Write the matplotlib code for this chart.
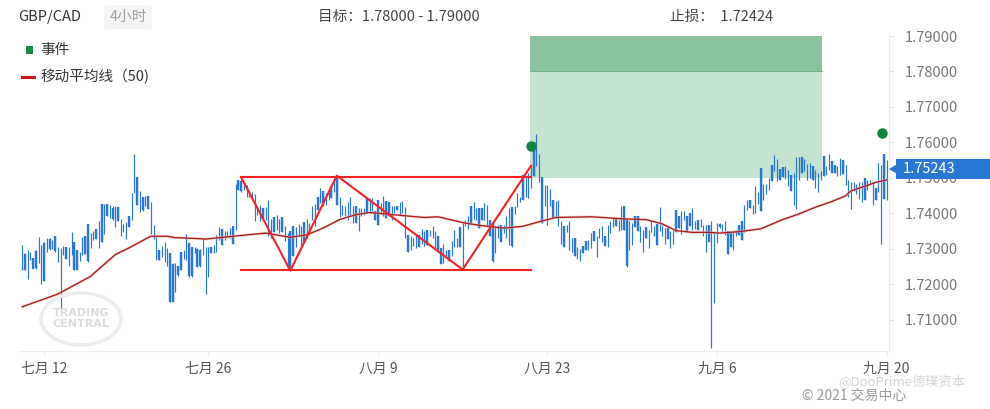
import numpy as np
import matplotlib
matplotlib.use("Agg")
import matplotlib.pyplot as plt
from matplotlib.patches import Rectangle, Polygon, Ellipse, FancyBboxPatch
from matplotlib.lines import Line2D

plt.rcParams['font.family'] = ['Noto Sans CJK SC', 'DejaVu Sans']

# GBP/CAD 4h bars (bar index 0 = first bar on the left)
highs = [
    1.7311, 1.7288, 1.7295, 1.7292, 1.7274, 1.7295, 1.7332, 1.7311, 1.7318, 1.7329,
    1.7330, 1.7325, 1.7337, 1.7306, 1.7301, 1.7308, 1.7304, 1.7306, 1.7348, 1.7318,
    1.7297, 1.7291, 1.7333, 1.7337, 1.7370, 1.7344, 1.7351, 1.7355, 1.7378, 1.7427,
    1.7425, 1.7425, 1.7422, 1.7419, 1.7421, 1.7417, 1.7383, 1.7370, 1.7374, 1.7391,
    1.7458, 1.7566, 1.7502, 1.7464, 1.7447, 1.7449, 1.7449, 1.7432, 1.7367, 1.7333,
    1.7295, 1.7307, 1.7319, 1.7301, 1.7288, 1.7260, 1.7260, 1.7250, 1.7290, 1.7295,
    1.7341, 1.7316, 1.7306, 1.7306,
    1.7302, 1.7299, 1.7330, 1.7306, 1.7306, 1.7306, 1.7311, 1.7339, 1.7361, 1.7355,
    1.7349, 1.7349, 1.7358, 1.7365, 1.7483, 1.7494, 1.7496, 1.7487, 1.7480, 1.7466,
    1.7461, 1.7455, 1.7421, 1.7424, 1.7414, 1.7417, 1.7436, 1.7384, 1.7388, 1.7395,
    1.7385, 1.7388, 1.7365, 1.7344, 1.7349, 1.7363, 1.7361, 1.7370, 1.7365, 1.7374,
    1.7383, 1.7372, 1.7421, 1.7427, 1.7447, 1.7471, 1.7464, 1.7458, 1.7461, 1.7476,
    1.7494, 1.7505, 1.7447, 1.7424, 1.7421, 1.7431, 1.7445, 1.7421, 1.7421, 1.7414,
    1.7414, 1.7414, 1.7440, 1.7443,
    1.7443, 1.7405, 1.7438, 1.7429, 1.7449, 1.7435, 1.7432, 1.7421, 1.7421, 1.7421,
    1.7433, 1.7435, 1.7417, 1.7339, 1.7335, 1.7330, 1.7339, 1.7339, 1.7355, 1.7349,
    1.7353, 1.7353, 1.7365, 1.7349, 1.7337, 1.7302, 1.7314, 1.7297, 1.7295, 1.7321,
    1.7353, 1.7330, 1.7361, 1.7372, 1.7382, 1.7393, 1.7421, 1.7431, 1.7414, 1.7414,
    1.7414, 1.7429, 1.7424, 1.7382, 1.7372, 1.7365, 1.7368, 1.7368, 1.7368, 1.7393,
    1.7414, 1.7417, 1.7421, 1.7458, 1.7447, 1.7508, 1.7505, 1.7513, 1.7534, 1.7602,
    1.7624, 1.7568, 1.7502, 1.7480,
    1.7480, 1.7468, 1.7438, 1.7435, 1.7438, 1.7379, 1.7365, 1.7368, 1.7379, 1.7330,
    1.7330, 1.7304, 1.7299, 1.7308, 1.7322, 1.7325, 1.7344, 1.7351, 1.7337, 1.7358,
    1.7363, 1.7335, 1.7368, 1.7379, 1.7386, 1.7383, 1.7382, 1.7421, 1.7421, 1.7380,
    1.7377, 1.7372, 1.7391, 1.7391, 1.7365, 1.7352, 1.7361, 1.7353, 1.7377, 1.7365,
    1.7370, 1.7417, 1.7368, 1.7358, 1.7358, 1.7349, 1.7353, 1.7408, 1.7391, 1.7405,
    1.7405, 1.7393, 1.7402, 1.7414, 1.7377, 1.7380, 1.7383, 1.7368, 1.7368, 1.7368,
    1.7377, 1.7346, 1.7372, 1.7372,
    1.7370, 1.7379, 1.7351, 1.7344, 1.7349, 1.7353, 1.7368, 1.7379, 1.7424, 1.7438,
    1.7438, 1.7424, 1.7476, 1.7461, 1.7529, 1.7483, 1.7483, 1.7499, 1.7537, 1.7565,
    1.7553, 1.7525, 1.7530, 1.7532, 1.7523, 1.7509, 1.7513, 1.7558, 1.7560, 1.7558,
    1.7553, 1.7539, 1.7543, 1.7532, 1.7523, 1.7513, 1.7518, 1.7562, 1.7534, 1.7568,
    1.7546, 1.7537, 1.7532, 1.7555, 1.7549, 1.7537, 1.7494, 1.7487, 1.7487, 1.7483,
    1.7487, 1.7489, 1.7499, 1.7494, 1.7494, 1.7489, 1.7471, 1.7543, 1.7537, 1.7568,
    1.7551,
]
lows = [
    1.7241, 1.7239, 1.7215, 1.7269, 1.7243, 1.7243, 1.7260, 1.7200, 1.7208, 1.7290,
    1.7297, 1.7300, 1.7292, 1.7261, 1.7130, 1.7283, 1.7271, 1.7252, 1.7283, 1.7239,
    1.7239, 1.7264, 1.7283, 1.7285, 1.7261, 1.7302, 1.7325, 1.7327, 1.7302, 1.7318,
    1.7340, 1.7393, 1.7386, 1.7382, 1.7360, 1.7377, 1.7335, 1.7346, 1.7327, 1.7361,
    1.7382, 1.7457, 1.7424, 1.7404, 1.7405, 1.7419, 1.7412, 1.7340, 1.7327, 1.7267,
    1.7267, 1.7277, 1.7261, 1.7252, 1.7149, 1.7149, 1.7177, 1.7224, 1.7241, 1.7271,
    1.7267, 1.7220, 1.7219, 1.7288,
    1.7247, 1.7247, 1.7283, 1.7172, 1.7219, 1.7288, 1.7288, 1.7292, 1.7325, 1.7311,
    1.7325, 1.7329, 1.7330, 1.7314, 1.7352, 1.7466, 1.7459, 1.7466, 1.7445, 1.7447,
    1.7438, 1.7377, 1.7396, 1.7377, 1.7383, 1.7382, 1.7336, 1.7330, 1.7348, 1.7353,
    1.7344, 1.7348, 1.7321, 1.7239, 1.7239, 1.7278, 1.7306, 1.7339, 1.7305, 1.7316,
    1.7330, 1.7339, 1.7382, 1.7365, 1.7410, 1.7429, 1.7421, 1.7424, 1.7438, 1.7443,
    1.7461, 1.7424, 1.7389, 1.7396, 1.7391, 1.7382, 1.7396, 1.7372, 1.7372, 1.7349,
    1.7391, 1.7396, 1.7400, 1.7402,
    1.7405, 1.7382, 1.7368, 1.7400, 1.7391, 1.7386, 1.7391, 1.7382, 1.7402, 1.7408,
    1.7396, 1.7402, 1.7330, 1.7290, 1.7295, 1.7308, 1.7302, 1.7305, 1.7314, 1.7308,
    1.7311, 1.7335, 1.7330, 1.7302, 1.7290, 1.7258, 1.7260, 1.7278, 1.7264, 1.7278,
    1.7306, 1.7305, 1.7306, 1.7241, 1.7363, 1.7355, 1.7372, 1.7383, 1.7382, 1.7358,
    1.7382, 1.7382, 1.7363, 1.7335, 1.7261, 1.7288, 1.7330, 1.7318, 1.7344, 1.7330,
    1.7311, 1.7306, 1.7398, 1.7417, 1.7433, 1.7438, 1.7445, 1.7443, 1.7471, 1.7506,
    1.7534, 1.7487, 1.7372, 1.7419,
    1.7368, 1.7421, 1.7386, 1.7386, 1.7365, 1.7314, 1.7304, 1.7346, 1.7297, 1.7290,
    1.7278, 1.7271, 1.7264, 1.7288, 1.7297, 1.7295, 1.7302, 1.7321, 1.7277, 1.7330,
    1.7318, 1.7308, 1.7306, 1.7344, 1.7361, 1.7363, 1.7349, 1.7353, 1.7352, 1.7247,
    1.7295, 1.7311, 1.7361, 1.7349, 1.7318, 1.7290, 1.7330, 1.7302, 1.7346, 1.7335,
    1.7311, 1.7349, 1.7337, 1.7314, 1.7327, 1.7302, 1.7314, 1.7346, 1.7358, 1.7342,
    1.7380, 1.7346, 1.7365, 1.7353, 1.7355, 1.7352, 1.7361, 1.7337, 1.7290, 1.7318,
    1.7020, 1.7147, 1.7316, 1.7358,
    1.7346, 1.7339, 1.7286, 1.7306, 1.7295, 1.7337, 1.7339, 1.7325, 1.7346, 1.7408,
    1.7414, 1.7398, 1.7402, 1.7427, 1.7405, 1.7438, 1.7455, 1.7466, 1.7490, 1.7518,
    1.7490, 1.7493, 1.7502, 1.7496, 1.7476, 1.7464, 1.7424, 1.7412, 1.7494, 1.7513,
    1.7518, 1.7494, 1.7499, 1.7494, 1.7471, 1.7459, 1.7494, 1.7504, 1.7509, 1.7523,
    1.7513, 1.7513, 1.7504, 1.7509, 1.7511, 1.7480, 1.7447, 1.7412, 1.7464, 1.7455,
    1.7440, 1.7433, 1.7436, 1.7466, 1.7480, 1.7424, 1.7436, 1.7459, 1.7314, 1.7440,
    1.7436,
]
opens = [
    1.7250, 1.7286, 1.7269, 1.7272, 1.7274, 1.7293, 1.7265, 1.7290, 1.7315, 1.7295,
    1.7328, 1.7305, 1.7335, 1.7265, 1.7290, 1.7286, 1.7304, 1.7258, 1.7290, 1.7318,
    1.7297, 1.7268, 1.7288, 1.7337, 1.7370, 1.7308, 1.7328, 1.7355, 1.7310, 1.7425,
    1.7345, 1.7425, 1.7390, 1.7415, 1.7365, 1.7417, 1.7340, 1.7348, 1.7330, 1.7391,
    1.7385, 1.7460, 1.7502, 1.7408, 1.7445, 1.7422, 1.7449, 1.7345, 1.7330, 1.7272,
    1.7295, 1.7280, 1.7265, 1.7256, 1.7288, 1.7258, 1.7180, 1.7250, 1.7290, 1.7274,
    1.7270, 1.7316, 1.7306, 1.7290,
    1.7300, 1.7297, 1.7288, 1.7290, 1.7295, 1.7306, 1.7290, 1.7296, 1.7330, 1.7355,
    1.7328, 1.7332, 1.7333, 1.7365, 1.7356, 1.7494, 1.7492, 1.7468, 1.7448, 1.7450,
    1.7440, 1.7382, 1.7398, 1.7380, 1.7414, 1.7385, 1.7340, 1.7333, 1.7388, 1.7357,
    1.7347, 1.7388, 1.7324, 1.7243, 1.7349, 1.7363, 1.7310, 1.7342, 1.7308, 1.7374,
    1.7333, 1.7342, 1.7385, 1.7368, 1.7447, 1.7432, 1.7464, 1.7427, 1.7440, 1.7476,
    1.7464, 1.7505, 1.7392, 1.7399, 1.7394, 1.7385, 1.7399, 1.7375, 1.7421, 1.7352,
    1.7394, 1.7398, 1.7440, 1.7405,
    1.7408, 1.7405, 1.7438, 1.7403, 1.7394, 1.7435, 1.7432, 1.7385, 1.7405, 1.7421,
    1.7399, 1.7405, 1.7333, 1.7339, 1.7298, 1.7311, 1.7305, 1.7339, 1.7317, 1.7311,
    1.7353, 1.7338, 1.7333, 1.7305, 1.7337, 1.7302, 1.7263, 1.7281, 1.7295, 1.7281,
    1.7309, 1.7308, 1.7361, 1.7360, 1.7366, 1.7358, 1.7421, 1.7386, 1.7385, 1.7414,
    1.7414, 1.7385, 1.7366, 1.7382, 1.7372, 1.7292, 1.7333, 1.7368, 1.7347, 1.7333,
    1.7314, 1.7417, 1.7400, 1.7420, 1.7435, 1.7508, 1.7448, 1.7446, 1.7474, 1.7602,
    1.7538, 1.7490, 1.7502, 1.7422,
    1.7372, 1.7424, 1.7438, 1.7389, 1.7368, 1.7317, 1.7365, 1.7349, 1.7300, 1.7293,
    1.7330, 1.7274, 1.7267, 1.7308, 1.7322, 1.7298, 1.7305, 1.7351, 1.7280, 1.7333,
    1.7321, 1.7335, 1.7309, 1.7347, 1.7364, 1.7383, 1.7352, 1.7356, 1.7421, 1.7380,
    1.7298, 1.7314, 1.7391, 1.7391, 1.7321, 1.7293, 1.7361, 1.7305, 1.7349, 1.7338,
    1.7370, 1.7352, 1.7340, 1.7317, 1.7358, 1.7305, 1.7317, 1.7408, 1.7391, 1.7345,
    1.7383, 1.7393, 1.7402, 1.7356, 1.7358, 1.7380, 1.7364, 1.7340, 1.7293, 1.7368,
    1.7370, 1.7340, 1.7319, 1.7369,
    1.7349, 1.7342, 1.7351, 1.7344, 1.7298, 1.7340, 1.7368, 1.7379, 1.7349, 1.7411,
    1.7438, 1.7401, 1.7405, 1.7430, 1.7529, 1.7441, 1.7458, 1.7469, 1.7537, 1.7521,
    1.7493, 1.7525, 1.7530, 1.7499, 1.7479, 1.7509, 1.7427, 1.7415, 1.7497, 1.7558,
    1.7521, 1.7497, 1.7502, 1.7532, 1.7474, 1.7462, 1.7497, 1.7562, 1.7512, 1.7526,
    1.7546, 1.7537, 1.7507, 1.7512, 1.7549, 1.7483, 1.7450, 1.7415, 1.7467, 1.7458,
    1.7443, 1.7436, 1.7499, 1.7469, 1.7483, 1.7427, 1.7471, 1.7462, 1.7480, 1.7568,
    1.7440,
]
closes = [
    1.7302, 1.7239, 1.7293, 1.7288, 1.7243, 1.7245, 1.7325, 1.7308, 1.7210, 1.7325,
    1.7300, 1.7318, 1.7294, 1.7300, 1.7298, 1.7305, 1.7271, 1.7300, 1.7340, 1.7239,
    1.7240, 1.7288, 1.7330, 1.7285, 1.7265, 1.7340, 1.7348, 1.7327, 1.7372, 1.7320,
    1.7420, 1.7393, 1.7418, 1.7385, 1.7418, 1.7377, 1.7380, 1.7368, 1.7370, 1.7361,
    1.7455, 1.7560, 1.7424, 1.7460, 1.7408, 1.7447, 1.7412, 1.7428, 1.7364, 1.7330,
    1.7267, 1.7304, 1.7315, 1.7298, 1.7149, 1.7150, 1.7255, 1.7226, 1.7241, 1.7292,
    1.7338, 1.7222, 1.7222, 1.7305,
    1.7249, 1.7250, 1.7325, 1.7300, 1.7303, 1.7288, 1.7308, 1.7335, 1.7358, 1.7311,
    1.7345, 1.7346, 1.7355, 1.7314, 1.7478, 1.7466, 1.7462, 1.7485, 1.7478, 1.7464,
    1.7459, 1.7450, 1.7419, 1.7420, 1.7383, 1.7414, 1.7432, 1.7380, 1.7348, 1.7390,
    1.7382, 1.7348, 1.7361, 1.7340, 1.7242, 1.7279, 1.7358, 1.7367, 1.7362, 1.7316,
    1.7380, 1.7369, 1.7418, 1.7424, 1.7410, 1.7468, 1.7421, 1.7455, 1.7458, 1.7443,
    1.7490, 1.7424, 1.7444, 1.7421, 1.7418, 1.7428, 1.7442, 1.7418, 1.7372, 1.7411,
    1.7411, 1.7411, 1.7400, 1.7440,
    1.7440, 1.7382, 1.7368, 1.7426, 1.7446, 1.7386, 1.7391, 1.7418, 1.7418, 1.7408,
    1.7430, 1.7432, 1.7414, 1.7290, 1.7332, 1.7327, 1.7336, 1.7305, 1.7352, 1.7346,
    1.7311, 1.7350, 1.7362, 1.7346, 1.7290, 1.7258, 1.7311, 1.7294, 1.7264, 1.7318,
    1.7350, 1.7327, 1.7306, 1.7368, 1.7379, 1.7390, 1.7372, 1.7428, 1.7411, 1.7358,
    1.7382, 1.7426, 1.7421, 1.7335, 1.7265, 1.7362, 1.7365, 1.7318, 1.7365, 1.7390,
    1.7411, 1.7308, 1.7418, 1.7455, 1.7445, 1.7438, 1.7502, 1.7510, 1.7530, 1.7506,
    1.7620, 1.7565, 1.7372, 1.7477,
    1.7477, 1.7465, 1.7386, 1.7432, 1.7435, 1.7376, 1.7304, 1.7365, 1.7376, 1.7327,
    1.7278, 1.7301, 1.7296, 1.7288, 1.7297, 1.7322, 1.7341, 1.7321, 1.7334, 1.7355,
    1.7360, 1.7308, 1.7365, 1.7376, 1.7383, 1.7363, 1.7379, 1.7418, 1.7352, 1.7250,
    1.7374, 1.7369, 1.7361, 1.7349, 1.7362, 1.7349, 1.7330, 1.7350, 1.7374, 1.7362,
    1.7311, 1.7414, 1.7365, 1.7355, 1.7327, 1.7346, 1.7350, 1.7346, 1.7358, 1.7402,
    1.7402, 1.7346, 1.7365, 1.7411, 1.7374, 1.7352, 1.7380, 1.7365, 1.7365, 1.7318,
    1.7374, 1.7343, 1.7369, 1.7361,
    1.7367, 1.7376, 1.7286, 1.7306, 1.7346, 1.7350, 1.7339, 1.7325, 1.7421, 1.7435,
    1.7414, 1.7421, 1.7473, 1.7458, 1.7405, 1.7480, 1.7480, 1.7496, 1.7490, 1.7562,
    1.7550, 1.7493, 1.7502, 1.7529, 1.7520, 1.7464, 1.7510, 1.7555, 1.7557, 1.7513,
    1.7550, 1.7536, 1.7540, 1.7494, 1.7520, 1.7510, 1.7515, 1.7504, 1.7531, 1.7565,
    1.7513, 1.7513, 1.7529, 1.7552, 1.7511, 1.7534, 1.7491, 1.7484, 1.7484, 1.7480,
    1.7484, 1.7486, 1.7436, 1.7491, 1.7491, 1.7486, 1.7436, 1.7540, 1.7534, 1.7440,
    1.7524,
]

# 50-period moving average, sampled along the drawn line
ma_idx = [0, 13, 25, 27, 34, 40, 44, 47, 53, 56, 63, 67, 77, 89, 98, 104, 110, 116,
          122, 127, 137, 147, 152, 162, 168, 176, 183, 189, 195, 208, 220, 228, 234,
          239, 245, 251, 255, 262, 270, 278, 284, 290, 296, 301, 303, 308, 312, 316]
ma_val = [1.7136, 1.7172, 1.7222, 1.7236, 1.7283, 1.7306, 1.7323, 1.7335, 1.7335,
          1.7331, 1.7329, 1.7327, 1.7335, 1.7344, 1.7332, 1.7339, 1.7358, 1.7382,
          1.7396, 1.7402, 1.7395, 1.7388, 1.7390, 1.7372, 1.7365, 1.7358, 1.7363,
          1.7376, 1.7388, 1.7390, 1.7384, 1.7382, 1.7370, 1.7351, 1.7346, 1.7346,
          1.7344, 1.7348, 1.7356, 1.7382, 1.7398, 1.7417, 1.7433, 1.7449, 1.7463,
          1.7476, 1.7487, 1.7494]

# chart pattern (zigzag + channel) and trade levels
pat_idx = [80, 98, 115, 161, 186]
pat_val = [1.7502, 1.7238, 1.7506, 1.7241, 1.7534]
res_level = 1.7502
sup_level = 1.7239
zone_low, target_low, target_high = 1.7500, 1.7800, 1.7900
zone_start, zone_end = 185.6, 292.4
event_idx = [186.0, 314.3]
event_val = [1.7590, 1.7627]
last_price = 1.75243

tick_idx = [8, 68, 130, 192, 254, 316]
tick_labels = ['七月 12', '七月 26', '八月 9', '八月 23', '九月 6', '九月 20']
price_ticks = [1.71, 1.72, 1.73, 1.74, 1.75, 1.76, 1.77, 1.78, 1.79]

W, H = 990, 409
BLUE = '#2a77d3'


def fx(x):
    return x / W


def fy(y):
    return 1 - y / H


fig = plt.figure(figsize=(W / 100, H / 100), dpi=100, facecolor='white')
ax = fig.add_axes([fx(19), fy(351), fx(889) - fx(19), fy(33) - fy(351)])
ax.set_xlim(-1.2, 316.9)
ax.set_ylim(1.70113, 1.79085)

# target zone
ax.add_patch(Rectangle((zone_start, zone_low), zone_end - zone_start, target_low - zone_low,
                       facecolor='#c5e3d1', edgecolor='none', zorder=1))
ax.add_patch(Rectangle((zone_start, target_low), zone_end - zone_start, target_high - target_low,
                       facecolor='#8bc29f', edgecolor='none', zorder=1))
ax.plot([zone_start, zone_end], [target_low, target_low], color='#6fb589', lw=0.8, zorder=1.5)

# candles
o = np.array(opens)
c = np.array(closes)
x = np.arange(len(o))
ax.vlines(x, lows, highs, color=BLUE, lw=0.85, zorder=3)
down = c < o
ax.vlines(x[down], c[down], o[down], color=BLUE, lw=1.7, zorder=3)

# moving average
ax.plot(ma_idx, ma_val, color='#eab4b4', lw=2.0, alpha=0.55, zorder=4, solid_capstyle='round')
ax.plot(ma_idx, ma_val, color='#a81c18', lw=0.95, zorder=4.1)

# pattern
pcol = '#f52222'
ax.plot([pat_idx[0], pat_idx[-1]], [res_level, res_level], color=pcol, lw=1.5, zorder=5)
ax.plot([pat_idx[0], pat_idx[-1]], [sup_level, sup_level], color=pcol, lw=1.5, zorder=5)
ax.plot(pat_idx, pat_val, color=pcol, lw=1.5, zorder=5)

# events
ax.plot(event_idx, event_val, 'o', color='#13843f', ms=6.5, zorder=6)

# axes styling
for s in ['top', 'left']:
    ax.spines[s].set_visible(False)
ax.spines['right'].set_color('#eeeeee')
ax.spines['bottom'].set_color('#eeeeee')
ax.yaxis.tick_right()
ax.set_yticks(price_ticks)
ax.set_yticklabels(['%.5f' % p for p in price_ticks])
ax.tick_params(axis='y', length=3, color='#e3e3e3', labelcolor='#777777', labelsize=10.5, pad=8)
ax.set_xticks(tick_idx)
ax.set_xticklabels(tick_labels)
ax.tick_params(axis='x', length=4, color='#eeeeee', labelcolor='#555555', labelsize=10, pad=4)

# last price marker
fig.patches.append(Polygon([(fx(889), fy(169)), (fx(896.5), fy(164.5)), (fx(896.5), fy(173.5))],
                           closed=True, transform=fig.transFigure, facecolor=BLUE, edgecolor='none'))
fig.patches.append(Rectangle((fx(896), fy(179)), fx(990) - fx(896), fy(159) - fy(179),
                             transform=fig.transFigure, facecolor=BLUE, edgecolor='none'))
fig.text(fx(903), fy(169), '%.5f' % last_price, color='white', fontsize=10.5, va='center', ha='left')

# header
fig.text(fx(18), fy(17), 'GBP/CAD', color='#333333', fontsize=10.5, va='center', ha='left')
fig.patches.append(FancyBboxPatch((fx(104), fy(29)), fx(152) - fx(104), fy(5) - fy(29),
                                  boxstyle='round,pad=0,rounding_size=0.004',
                                  transform=fig.transFigure, facecolor='#f5f5f5', edgecolor='none'))
fig.text(fx(128), fy(17), '4小时', color='#a0a0a0', fontsize=10.5, va='center', ha='center')
fig.text(fx(318), fy(17), '目标：1.78000 - 1.79000', color='#444444', fontsize=10.5, va='center', ha='left')
fig.text(fx(670), fy(17), '止损：  1.72424', color='#444444', fontsize=10.5, va='center', ha='left')

# legend
fig.patches.append(Rectangle((fx(26), fy(54)), fx(33) - fx(26), fy(46) - fy(54),
                             transform=fig.transFigure, facecolor='#1b8a47', edgecolor='none'))
fig.text(fx(40), fy(50), '事件', color='#333333', fontsize=10.5, va='center', ha='left')
fig.lines.append(Line2D([fx(22), fx(34)], [fy(77), fy(77)], transform=fig.transFigure,
                        color='#c41a1a', lw=2.2))
fig.text(fx(40), fy(77), '移动平均线（50)', color='#333333', fontsize=10.5, va='center', ha='left')

# watermarks
fig.patches.append(Ellipse((fx(81), fy(319)), fx(80), 52 / H, transform=fig.transFigure,
                           facecolor='none', edgecolor='#ececec', lw=2.5, zorder=0))
fig.text(fx(81), fy(313), 'TRADING', color='#dcdcdc', fontsize=8, fontweight='bold',
         va='center', ha='center', family='DejaVu Sans')
fig.text(fx(81), fy(324), 'CENTRAL', color='#dcdcdc', fontsize=8, fontweight='bold',
         va='center', ha='center', family='DejaVu Sans')
fig.text(fx(838), fy(382), '@DooPrime德璞资本', color='#d5d5d5', fontsize=9.5, va='center', ha='left')
fig.text(fx(802), fy(396), '© 2021 交易中心', color='#999999', fontsize=10, va='center', ha='left')

fig.savefig('out.png', dpi=100, facecolor='white')
